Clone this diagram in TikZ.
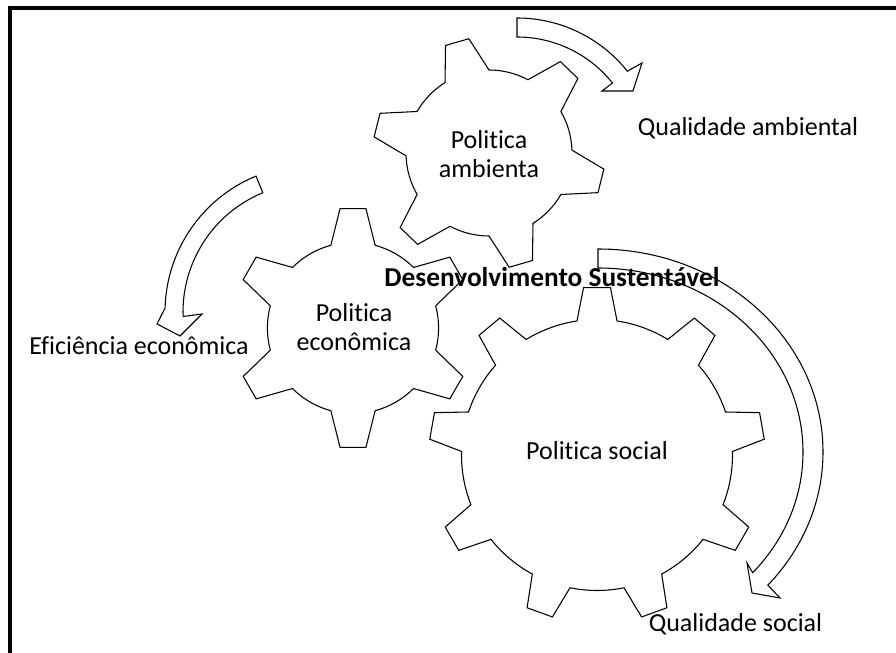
\documentclass[tikz,border=0pt]{standalone}
\usepackage{fontspec}
\setmainfont{Carlito}[Ligatures={NoCommon}]
\tikzset{
  cogline/.style={draw=black, fill=white, line width=0.8pt, line join=miter},
  bentarrow/.style={draw=black, fill=white, line width=0.8pt, line join=miter},
  caption/.style={font=\fontsize{19.5}{21.5}\selectfont, inner sep=0pt, align=center},
  boldcaption/.style={caption, font=\fontsize{20.5}{22}\selectfont\bfseries},
}
% #1 centre, #2 teeth, #3 root radius, #4 tip radius,
% #5 half angle at root, #6 half angle at tip, #7 turn of first tooth
\newcommand{\cog}[7]{%
  \draw[cogline, shift={#1}] ({#7-#5}:#3)
    \foreach \k in {1,...,#2}{
      -- ({#7+360*(\k-1)/#2-#6}:#4) -- ({#7+360*(\k-1)/#2+#6}:#4)
      -- ({#7+360*(\k-1)/#2+#5}:#3)
      arc[start angle={#7+360*(\k-1)/#2+#5}, end angle={#7+360*\k/#2-#5}, radius=#3]
    } -- cycle;
}
\begin{document}
\begin{tikzpicture}[x=0.75pt,y=0.75pt]
  \useasboundingbox (0,0) rectangle (896,653);
  % frame
  \draw[line width=2.5pt] (10,0) -- (10,645) -- (896,645);
  % gears
  \cog{(489,500)}{6}{83}{116}{16}{6}{-14}
  \cog{(353,325)}{6}{85.6}{120}{15}{6.2}{90}
  \cog{(597,198)}{9}{135.5}{168}{8.5}{4.6}{90}
  % curved arrows
  \begin{scope}[shift={(517,494)}]
    \draw[bentarrow] (90:141) arc[start angle=90, end angle=38.5, radius=141]
      -- (125,96) -- (116,68) -- (85,68) -- (38.5:122)
      arc[start angle=38.5, end angle=90, radius=122] -- cycle;
  \end{scope}
  \begin{scope}[shift={(312,341)}]
    \draw[bentarrow] (112.4:147) arc[start angle=112.4, end angle=178.5, radius=147]
      -- (-155,-12) -- (-132,-24) -- (-110,-2) -- (182:129)
      arc[start angle=182, end angle=112.4, radius=129] -- cycle;
  \end{scope}
  \begin{scope}[shift={(598,201)}]
    \draw[bentarrow] (0,203) arc[start angle=90, end angle=-41, x radius=225, y radius=203]
      -- (182,-146) -- (154,-141) -- (149,-111) -- ({205*cos(-41)},{184*sin(-41)})
      arc[start angle=-41, end angle=90, x radius=205, y radius=184] -- cycle;
  \end{scope}
  % texts
  \node[caption] (ambText) at (489,499) {Politica\\ambienta};
  \node[caption] (ecoText) at (354,326) {Politica\\econômica};
  \node[caption, anchor=base] (socText) at (597,193) {Politica social};
  \node[boldcaption, anchor=base] (devText) at (552,366) {Desenvolvimento Sustentável};
  \node[caption, anchor=base] (ambQual) at (748,517) {Qualidade ambiental};
  \node[caption, anchor=base] (ecoQual) at (139,298) {Eficiência econômica};
  \node[caption, anchor=base] (socQual) at (735.5,21) {Qualidade social};
\end{tikzpicture}
\end{document}
